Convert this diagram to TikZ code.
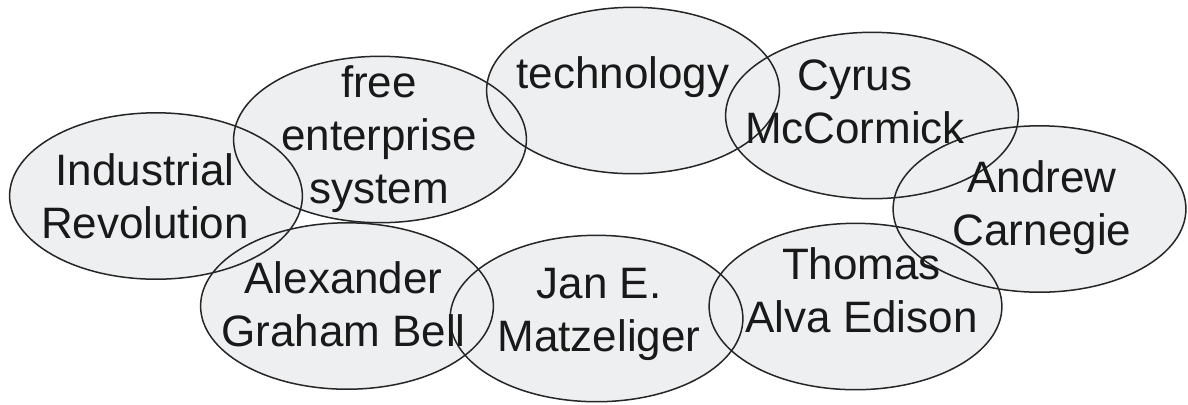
\documentclass[tikz,border=0pt]{standalone}
\usepackage{fontspec}
\setmainfont{Liberation Sans}
\definecolor{bulle}{RGB}{238,239,241}

\begin{document}
\begin{tikzpicture}[
  x=0.5pt, y=-0.5pt, % repère en pixels, origine en haut à gauche
  fond/.style={fill=bulle},
  contour/.style={draw=black!85, line width=0.75pt},
  txt/.style={align=center, inner sep=0pt, text=black!90, font=\fontsize{22}{26.5}\selectfont}
]
\useasboundingbox (0,0) rectangle (1188,404);

% Centres des bulles
\coordinate (ir-c) at (156,196);
\coordinate (fe-c) at (380,139.5);
\coordinate (tech-c) at (633,90.5);
\coordinate (cyrus-c) at (872,115.5);
\coordinate (carnegie-c) at (1039.5,209);
\coordinate (edison-c) at (855.5,306.5);
\coordinate (jan-c) at (596.5,318.5);
\coordinate (bell-c) at (347,306);

% Remplissage d'abord, contours ensuite (tous visibles)
\foreach \b in {ir,fe,tech,cyrus,carnegie,edison,jan,bell}
  \fill[fond] (\b-c) ellipse [x radius=73.2pt, y radius=41.6pt];
\foreach \b in {ir,fe,tech,cyrus,carnegie,edison,jan,bell}
  \draw[contour] (\b-c) ellipse [x radius=73.2pt, y radius=41.6pt];

% Textes
\node[txt] (ir) at (145,196) {Industrial\\Revolution};
\node[txt] (fe) at (379,139.5) {free\\enterprise\\system};
\node[txt] (tech) at (623,77) {technology};
\node[txt] (cyrus) at (855,102) {Cyrus\\McCormick};
\node[txt] (carnegie) at (1042,208) {Andrew\\Carnegie};
\node[txt] (edison) at (861.5,290.5) {Thomas\\Alva Edison};
\node[txt] (jan) at (599,314.5) {Jan E.\\Matzeliger};
\node[txt] (bell) at (343.5,304) {Alexander\\Graham Bell};

\end{tikzpicture}
\end{document}
